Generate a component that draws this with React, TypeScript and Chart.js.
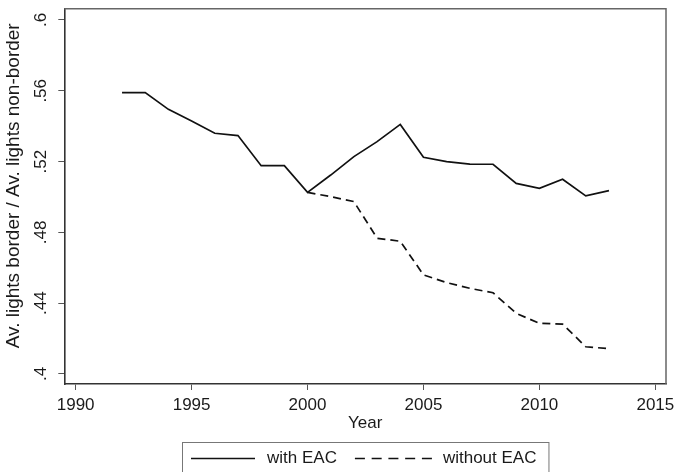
import React, { useEffect, useRef } from "react";
import { Chart, registerables } from "chart.js";

Chart.register(...registerables);

// ---- data ----
const years = [1992, 1993, 1994, 1995, 1996, 1997, 1998, 1999, 2000, 2001, 2002, 2003, 2004, 2005, 2006, 2007, 2008, 2009, 2010, 2011, 2012, 2013];
const withEAC = [0.559, 0.559, 0.5495, 0.543, 0.536, 0.5347, 0.5177, 0.5177, 0.5026, 0.5124, 0.5228, 0.5313, 0.541, 0.5224, 0.52, 0.5186, 0.5185, 0.5077, 0.5049, 0.51, 0.5006, 0.5036];
const yearsWithout = [2000, 2001, 2002, 2003, 2004, 2005, 2006, 2007, 2008, 2009, 2010, 2011, 2012, 2013];
const withoutEAC = [0.5026, 0.5002, 0.4974, 0.4767, 0.475, 0.456, 0.4516, 0.4484, 0.4459, 0.4343, 0.4286, 0.4282, 0.4154, 0.4143];
const xTickValues = [1990, 1995, 2000, 2005, 2010, 2015];
const yTickValues = [0.4, 0.44, 0.48, 0.52, 0.56, 0.6];
const yTickLabels = [".4", ".44", ".48", ".52", ".56", ".6"];
const seriesLabels = ["with EAC", "without EAC"];
const xTitle = "Year";
const yTitle = "Av. lights border / Av. lights non-border";

const FONT = '"Liberation Sans", Arial, sans-serif';
const TEXT = "#1a1a1a";

const framePlugin = {
  id: "frame",
  beforeDatasetsDraw(chart: any) {
    const { ctx, chartArea } = chart;
    ctx.save();
    ctx.strokeStyle = "#666";
    ctx.lineWidth = 1.5;
    ctx.beginPath();
    ctx.moveTo(chartArea.left, chartArea.top);
    ctx.lineTo(chartArea.right, chartArea.top);
    ctx.lineTo(chartArea.right, chartArea.bottom);
    ctx.stroke();
    ctx.restore();
  },
};

const legendPlugin = {
  id: "boxLegend",
  afterDraw(chart: any) {
    const { ctx, chartArea } = chart;
    ctx.save();
    ctx.font = "17px " + FONT;
    const padL = 8.5, padR = 12.5, keyW = 64, dashKeyW = 77, gapText = 12, gapItem = 18;
    const w0 = ctx.measureText(seriesLabels[0]).width;
    const w1 = ctx.measureText(seriesLabels[1]).width;
    const total = padL + keyW + gapText + w0 + gapItem + dashKeyW + 11 + w1 + padR;
    const cx = (chartArea.left + chartArea.right) / 2;
    const left = Math.round(cx - total / 2) + 0.5;
    const top = chart.height - 29.5;
    ctx.fillStyle = "#fff";
    ctx.fillRect(left, top, total, 40);
    ctx.strokeStyle = "#777";
    ctx.lineWidth = 1;
    ctx.strokeRect(left, top, total, 40);
    const ky = top + 16;
    let x = left + padL;
    ctx.strokeStyle = "#111";
    ctx.lineWidth = 1.7;
    ctx.beginPath();
    ctx.moveTo(x, ky);
    ctx.lineTo(x + keyW, ky);
    ctx.stroke();
    x += keyW + gapText;
    ctx.fillStyle = TEXT;
    ctx.textBaseline = "middle";
    ctx.textAlign = "left";
    ctx.fillText(seriesLabels[0], x, ky);
    x += w0 + gapItem;
    ctx.setLineDash([10, 6.75]);
    ctx.beginPath();
    ctx.moveTo(x, ky);
    ctx.lineTo(x + dashKeyW, ky);
    ctx.stroke();
    ctx.setLineDash([]);
    x += dashKeyW + 11;
    ctx.fillText(seriesLabels[1], x, ky);
    ctx.restore();
  },
};

export default function App() {
  const ref = useRef<HTMLCanvasElement>(null);
  useEffect(() => {
    document.body.style.margin = "0";
    const canvas = ref.current!;
    const chart = new Chart(canvas, {
      type: "line",
      data: {
        datasets: [
          {
            label: seriesLabels[0],
            data: years.map((y, i) => ({ x: y, y: withEAC[i] })),
            borderColor: "#111",
            borderWidth: 1.7,
            pointRadius: 0,
            fill: false,
            tension: 0,
          },
          {
            label: seriesLabels[1],
            data: yearsWithout.map((y, i) => ({ x: y, y: withoutEAC[i] })),
            borderColor: "#111",
            borderWidth: 1.7,
            borderDash: [8, 5],
            pointRadius: 0,
            fill: false,
            tension: 0,
          },
        ],
      },
      options: {
        animation: false,
        responsive: false,
        maintainAspectRatio: false,
        layout: { padding: { top: 8.7, right: 12, bottom: 38.8, left: 0 } },
        plugins: {
          legend: { display: false },
          tooltip: { enabled: false },
        },
        scales: {
          x: {
            type: "linear",
            min: 1989.51,
            max: 2015.46,
            afterBuildTicks: (s: any) => {
              s.ticks = xTickValues.map((v) => ({ value: v }));
            },
            afterFit: (s: any) => {
              s.height = 49.2;
              s.paddingLeft = 0;
              s.paddingRight = 0;
            },
            grid: { drawOnChartArea: false, tickLength: 6, tickColor: "#555", tickWidth: 1 },
            border: { display: true, color: "#333", width: 1.6 },
            ticks: {
              color: TEXT,
              padding: 5,
              maxRotation: 0,
              font: { family: FONT, size: 17, lineHeight: 1.2 },
              callback: (v: any) => String(v),
            },
            title: {
              display: true,
              text: xTitle,
              color: TEXT,
              padding: { top: 0, bottom: 0 },
              font: { family: FONT, size: 17, lineHeight: 1.2 },
            },
          },
          y: {
            type: "linear",
            min: 0.39435,
            max: 0.60638,
            afterBuildTicks: (s: any) => {
              s.ticks = yTickValues.map((v) => ({ value: v }));
            },
            afterFit: (s: any) => {
              s.width = 64.3;
              s.paddingTop = 0;
              s.paddingBottom = 0;
            },
            grid: { drawOnChartArea: false, tickLength: 6, tickColor: "#555", tickWidth: 1 },
            border: { display: true, color: "#333", width: 1.6 },
            ticks: {
              color: TEXT,
              padding: 5,
              minRotation: 90,
              maxRotation: 90,
              crossAlign: "center",
              font: { family: FONT, size: 17, lineHeight: 1.2 },
              callback: (v: any) => {
                const i = yTickValues.findIndex((t) => Math.abs(t - v) < 1e-9);
                return i >= 0 ? yTickLabels[i] : "";
              },
            },
            title: {
              display: true,
              text: "    " + yTitle,
              color: TEXT,
              padding: { top: 2, bottom: 0 },
              font: { family: FONT, size: 19, lineHeight: 1.2 },
            },
          },
        },
      },
      plugins: [framePlugin, legendPlugin],
    } as any);
    return () => chart.destroy();
  }, []);
  return (
    <div style={{ width: 678, height: 472, background: "#fff" }}>
      <canvas ref={ref} width={678} height={472} style={{ display: "block" }} />
    </div>
  );
}
